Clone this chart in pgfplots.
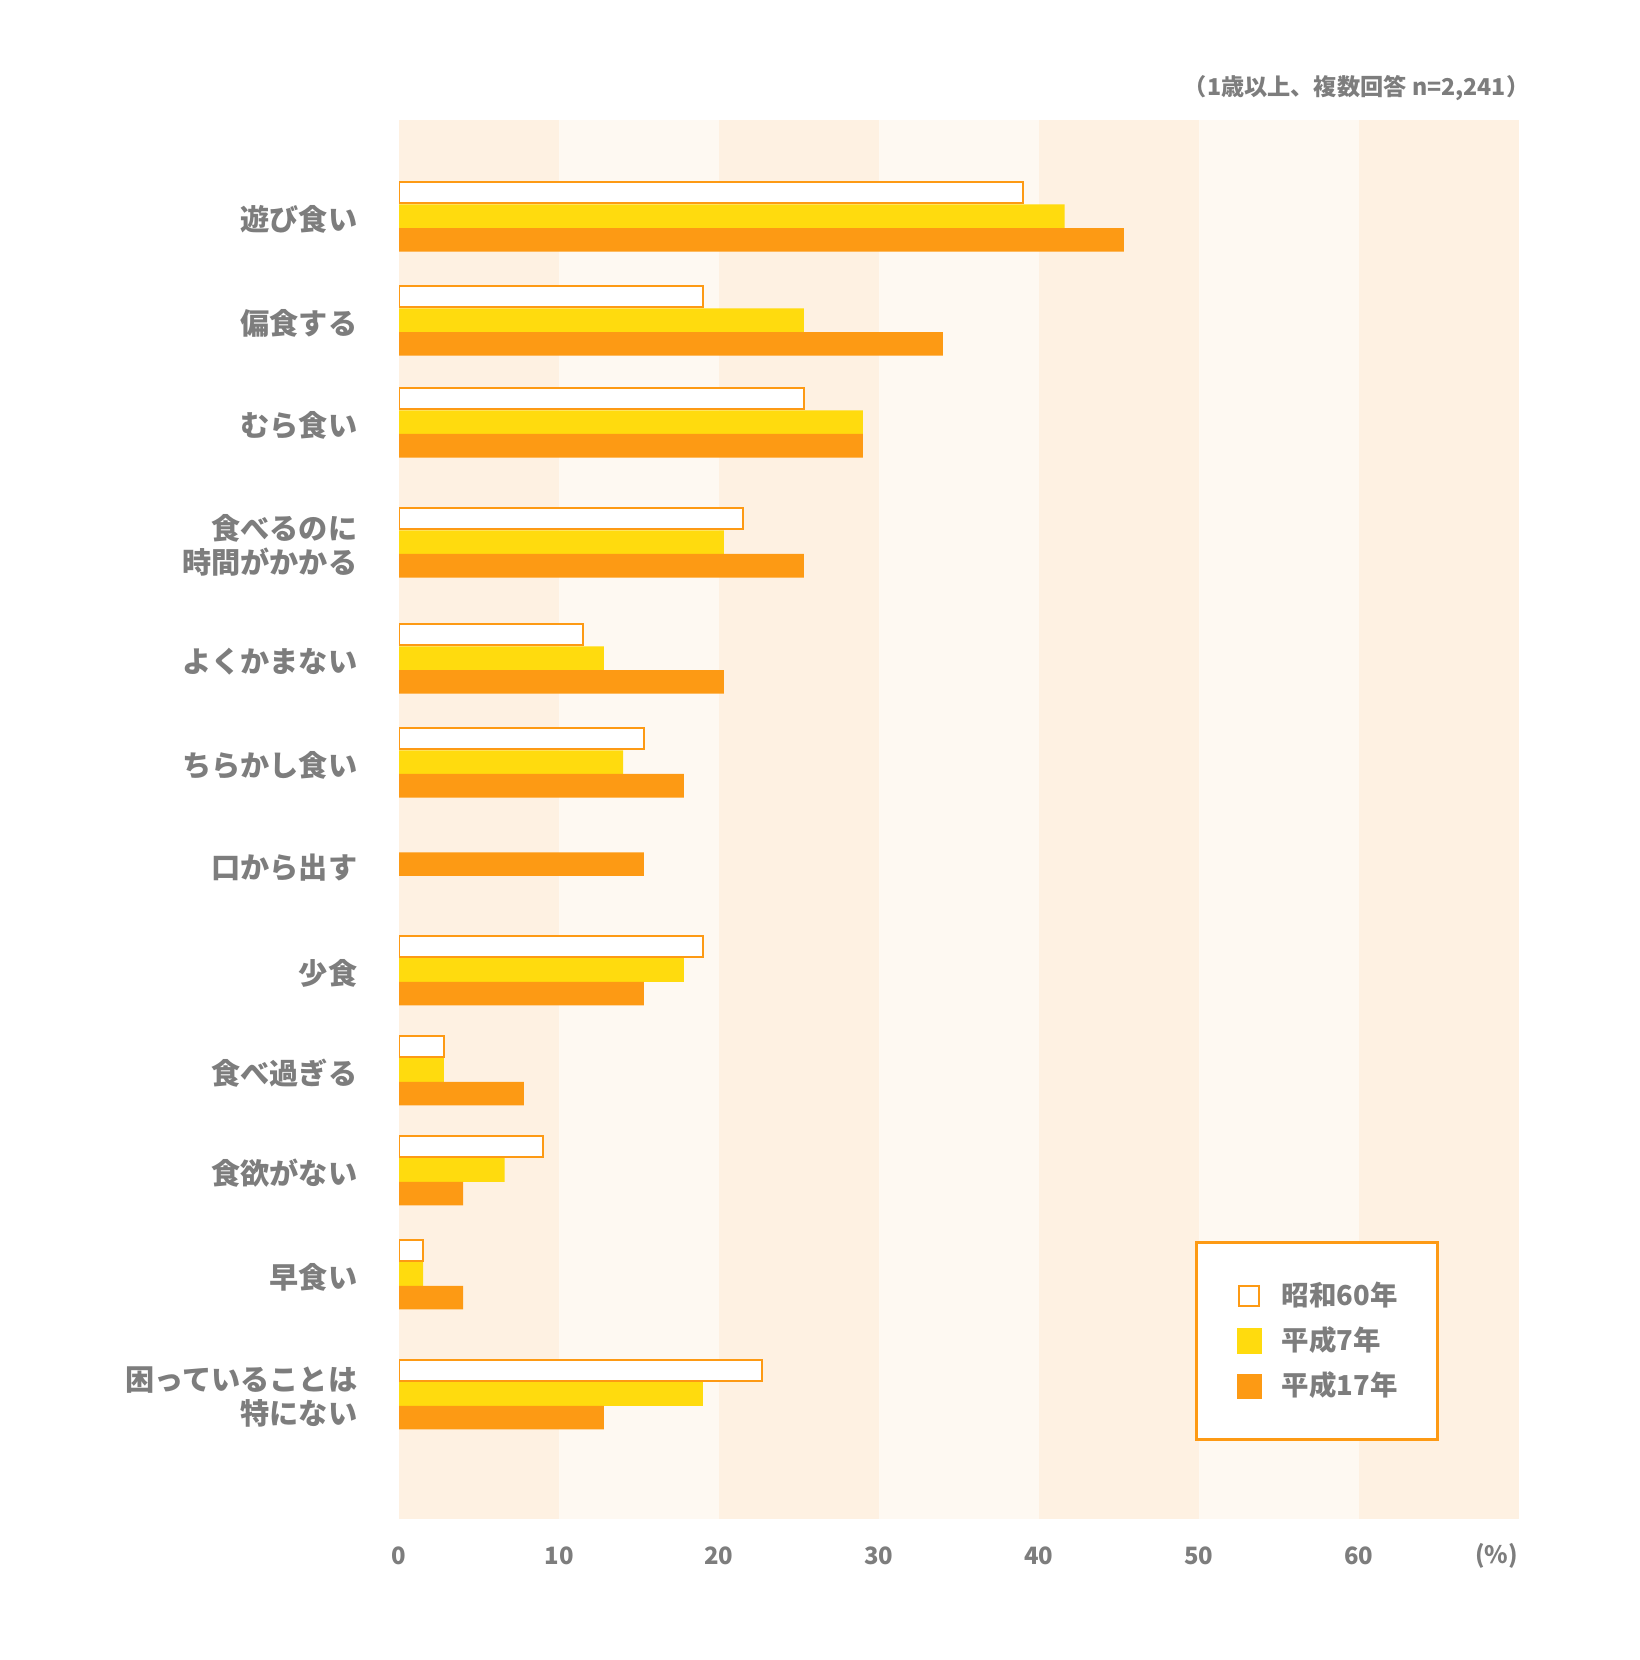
\documentclass[border=0pt]{standalone}
\usepackage{pgfplots}
\usepackage{pgfplotstable}
\pgfplotsset{compat=1.18}
\usepackage{fontspec}
\newfontfamily\jp{Noto Sans CJK JP}
\definecolor{lorange}{RGB}{253,154,20}
\definecolor{lyellow}{RGB}{255,219,14}
\definecolor{stripeA}{RGB}{254,241,226}
\definecolor{stripeB}{RGB}{254,249,242}
\definecolor{textgray}{RGB}{125,125,125}
\pgfplotstableread{
y a b c
-216.3 39.0 41.6 45.3
-320.3 19.0 25.3 34.0
-422.2 25.3 29.0 29.0
-542.2 21.5 20.3 25.3
-658.3 11.5 12.8 20.3
-762.2 15.3 14.0 17.8
-840.6 nan nan 15.3
-970.0 19.0 17.8 15.3
-1070.0 2.8 2.8 7.8
-1170.0 9.0 6.6 4.0
-1274.0 1.5 1.5 4.0
-1394.0 22.7 19.0 12.8
}\data
\begin{document}
\begin{tikzpicture}
\useasboundingbox (0,0) rectangle (16.4,16.6);
\node[anchor=east, inner sep=0pt, text=textgray, font=\jp\bfseries\fontsize{6.6}{8}\selectfont] at (15.30,15.72) {（1歳以上、複数回答 n=2,241）};
\begin{axis}[
  at={(3.99cm,1.41cm)}, anchor=south west,
  width=11.2cm, height=13.99cm, scale only axis,
  xmin=0, xmax=70, ymin=-1519, ymax=-120,
  axis line style={draw=none}, major tick length=0pt,
  xtick={0,10,20,30,40,50,60},
  extra x ticks={68.6}, extra x tick labels={(\%)},
  /pgf/number format/assume math mode=true,
  xticklabel style={anchor=center, yshift=-3.7mm, text=textgray, font=\jp\bfseries\fontsize{6.8}{8}\selectfont},
  ytick={-1394.0,-1274.0,-1170.0,-1070.0,-970.0,-864.2,-762.2,-658.3,-542.2,-422.2,-320.3,-216.3},
  yticklabels={{困っていることは\\特にない},早食い,食欲がない,食べ過ぎる,少食,口から出す,ちらかし食い,よくかまない,{食べるのに\\時間がかかる},むら食い,偏食する,遊び食い},
  yticklabel style={anchor=east, inner sep=0pt, xshift=-4.1mm, yshift=-0.3mm, align=right, text=textgray, font=\jp\bfseries\fontsize{8.3}{9.7}\selectfont},
  legend style={at={(axis cs:49.75,-1241)}, anchor=north west, draw=lorange, line width=0.32mm, fill=white,
    inner xsep=4.0mm, inner ysep=3.4mm, row sep=0.6mm, text=textgray,
    font=\jp\bfseries\fontsize{7.8}{9.4}\selectfont, cells={anchor=west},
    nodes={inner xsep=0mm, inner ysep=0.5mm},
    /tikz/every odd column/.append style={column sep=2.0mm}},
]
\fill[stripeA] (axis cs:0,-120) rectangle (axis cs:10,-1519);
\fill[stripeB] (axis cs:10,-120) rectangle (axis cs:20,-1519);
\fill[stripeA] (axis cs:20,-120) rectangle (axis cs:30,-1519);
\fill[stripeB] (axis cs:30,-120) rectangle (axis cs:40,-1519);
\fill[stripeA] (axis cs:40,-120) rectangle (axis cs:50,-1519);
\fill[stripeB] (axis cs:50,-120) rectangle (axis cs:60,-1519);
\fill[stripeA] (axis cs:60,-120) rectangle (axis cs:70,-1519);
\addlegendimage{legend image code/.code={\draw[fill=white, draw=lorange, line width=0.2mm] (0cm,-0.1cm) rectangle (0.2cm,0.1cm);}}
\addlegendentry{昭和60年}
\addlegendimage{legend image code/.code={\fill[lyellow] (-0.01cm,-0.11cm) rectangle (0.21cm,0.11cm);}}
\addlegendentry{平成7年}
\addlegendimage{legend image code/.code={\fill[lorange] (-0.01cm,-0.11cm) rectangle (0.21cm,0.11cm);}}
\addlegendentry{平成17年}
\addplot[forget plot, xbar, bar shift=0pt, bar width=21.4, fill=white, draw=lorange, line width=0.22mm]
  table[x=a, y expr=\thisrow{y}+23.6] {\data};
\addplot[forget plot, xbar, bar shift=0pt, bar width=23.6, fill=lyellow, draw=none]
  table[x=b, y=y] {\data};
\addplot[forget plot, xbar, bar shift=0pt, bar width=23.6, fill=lorange, draw=none]
  table[x=c, y expr=\thisrow{y}-23.6] {\data};
\end{axis}
\end{tikzpicture}
\end{document}
